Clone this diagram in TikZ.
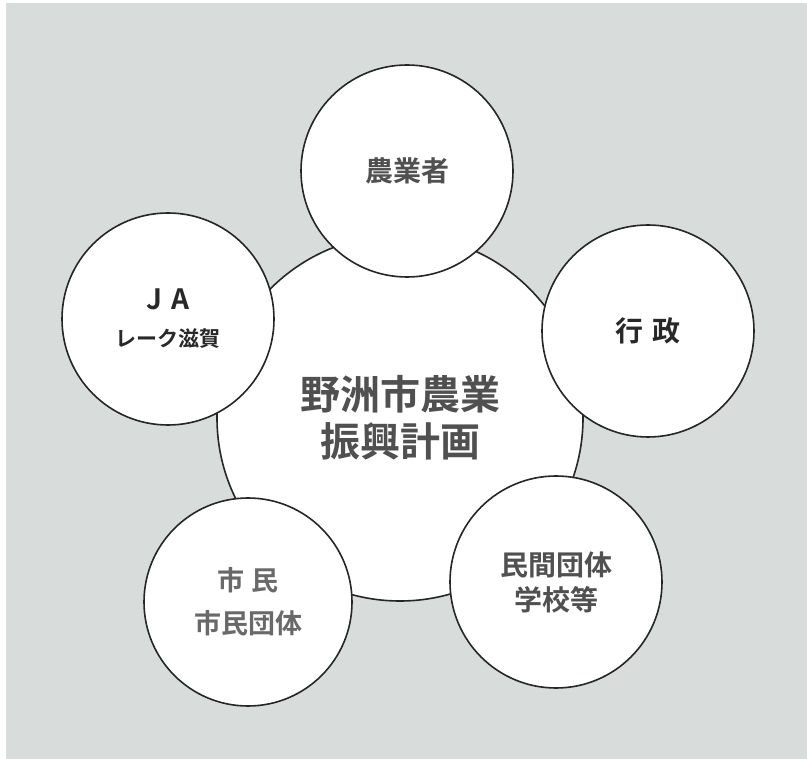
\documentclass[tikz,border=0pt]{standalone}
\usepackage{fontspec}
\newfontfamily\cjk{Noto Sans CJK JP}[BoldFont={Noto Sans CJK JP Bold}]
\definecolor{bg}{RGB}{216,220,218}
\definecolor{txa}{RGB}{80,80,80}
\definecolor{txb}{RGB}{40,40,40}
\definecolor{txc}{RGB}{105,105,105}
\tikzset{
  ring/.style={circle, draw=black!85, line width=1.6pt, fill=white, inner sep=0pt, align=center},
  small/.style={ring, minimum size=212pt},
  big/.style={ring, minimum size=366pt},
}
\begin{document}
\begin{tikzpicture}[x=1pt,y=-1pt]
\useasboundingbox (0,0) rectangle (807,759);
\fill[white] (0,0) rectangle (807,759);
\fill[bg] (6,3) rectangle (807,759);
\node[big, text=txa, font={\cjk\bfseries\fontsize{40}{47}\selectfont}] (main) at (400,418) {野洲市農業\\振興計画};
\node[small, text=txa, font={\cjk\bfseries\fontsize{28}{34}\selectfont}] (farmer) at (407,171) {農業者};
\node[small, text=txb, font={\cjk\bfseries\fontsize{28}{34}\selectfont}] (gov) at (648,331) {行\hspace{10pt}政};
\node[small, text=txb, font={\cjk\bfseries\fontsize{21}{37}\selectfont}] (ja) at (168,319) {{\fontsize{28}{28}\selectfont J\hspace{10pt}A}\\レーク滋賀};
\node[small, minimum size=208pt, text=txc, font={\cjk\bfseries\fontsize{27}{43}\selectfont}] (citizen) at (248,602) {市\hspace{8pt}民\\市民団体};
\node[small, text=txa, font={\cjk\bfseries\fontsize{28}{35}\selectfont}] (private) at (556,582) {民間団体\\学校等};
\end{tikzpicture}
\end{document}
